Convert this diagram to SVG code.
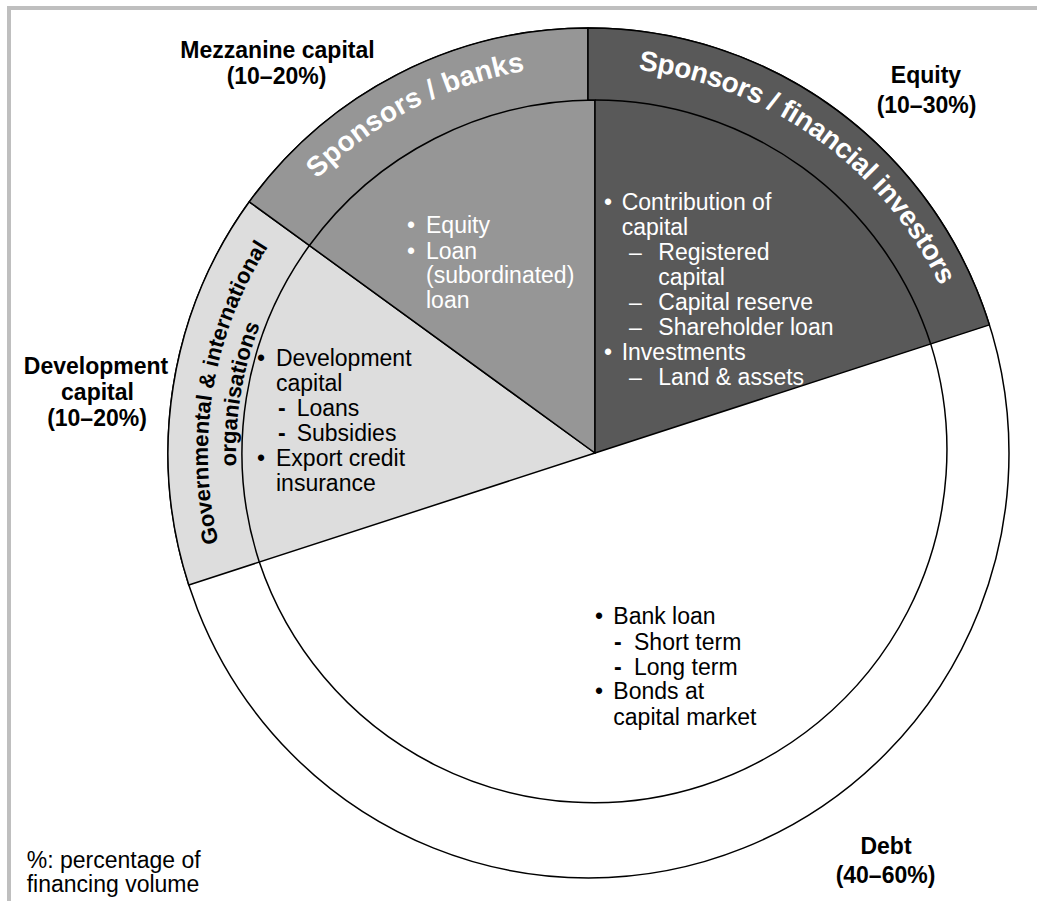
<svg xmlns="http://www.w3.org/2000/svg" width="1037" height="901" viewBox="0 0 1037 901">
<defs>
<style>
.lbl{font-family:"Liberation Sans",Arial,sans-serif;font-weight:bold;font-size:23px;fill:#000;text-anchor:middle}
.body{font-family:"Liberation Sans",Arial,sans-serif;font-size:23px}
.w{fill:#fff}
.k{fill:#000}
.hy{font-weight:bold}
.ring{font-family:"Liberation Sans",Arial,sans-serif;font-weight:bold;font-size:28px;fill:#fff}
.gring{font-family:"Liberation Sans",Arial,sans-serif;font-weight:bold;font-size:22px;fill:#000}
.sec{stroke:#000;stroke-width:1.5;stroke-linejoin:round}
.arc{fill:none;stroke:#000;stroke-width:1.5}
.frame{stroke:#bfbfbf;stroke-width:4;fill:none}
</style>
<path id="arcMezz" d="M227.4,320.3 A388,388 0 0 1 692.4,78.2"/>
<path id="arcEq" d="M545.6,69.8 A386,386 0 0 1 969.7,373.4"/>
<path id="arcGov1" d="M277.4,673.3 A384,384 0 0 1 366.3,142.3"/>
<path id="arcGov2" d="M300.4,657.2 A356,356 0 0 1 382.7,165"/>
</defs>
<rect x="0" y="0" width="1037" height="901" fill="#fff"/>
<g id="frame">
<line class="frame" x1="7" y1="8" x2="1037" y2="8"/>
<line class="frame" x1="9" y1="6" x2="9" y2="901"/>
</g>

<g id="debt">
<ellipse class="sec" cx="588.5" cy="453" rx="420.5" ry="425" fill="#fff"/>
<path class="arc" d="M930.7,343.9 A353,353 0 0 1 259.3,562.1"/>
<g class="body k">
<text x="595" y="624.3">•</text><text x="613.3" y="624.3">Bank loan</text>
<text x="614" y="650" class="hy">-</text><text x="634" y="650">Short term</text>
<text x="614" y="675" class="hy">-</text><text x="634" y="675">Long term</text>
<text x="595" y="699.3">•</text><text x="613.3" y="699.3">Bonds at</text>
<text x="613.3" y="725">capital market</text>
</g>
<text class="lbl"><tspan x="886" y="854.3">Debt</tspan><tspan x="885.5" y="882.7">(40–60%)</tspan></text>
</g>

<g id="government">
<path class="sec" fill="#dddddd" d="M595,453 L188.8,585 A420.5,425 0 0 1 249.3,201.8 Z"/>
<path class="arc" d="M259.3,562.1 A353,353 0 0 1 309.4,245.5"/>
<text class="gring"><textPath href="#arcGov1" startOffset="50%" text-anchor="middle">Governmental &amp; international</textPath></text>
<text class="gring"><textPath href="#arcGov2" startOffset="50%" text-anchor="middle">organisations</textPath></text>
<g class="body k">
<text x="257" y="365.7">•</text><text x="276" y="365.7">Development</text>
<text x="276" y="390.7">capital</text>
<text x="278" y="415.7" class="hy">-</text><text x="296.7" y="415.7">Loans</text>
<text x="278" y="440.7" class="hy">-</text><text x="296.7" y="440.7">Subsidies</text>
<text x="257" y="465.7">•</text><text x="276" y="465.7">Export credit</text>
<text x="276" y="490.7">insurance</text>
</g>
<text class="lbl"><tspan x="96" y="374.3">Development</tspan><tspan x="97.5" y="400">capital</tspan><tspan x="97" y="426">(10–20%)</tspan></text>
</g>

<g id="mezzanine">
<path class="sec" fill="#969696" d="M595,453 L249.3,201.8 A420.5,425 0 0 1 588,28 L588,100 L595,100 Z"/>
<path class="arc" d="M309.4,245.5 A353,353 0 0 1 595,100"/>
<text class="ring" font-size="29" letter-spacing="0.3"><textPath href="#arcMezz" startOffset="50%" text-anchor="middle">Sponsors / banks</textPath></text>
<g class="body w">
<text x="407" y="233.3">•</text><text x="426" y="233.3">Equity</text>
<text x="407" y="258.5">•</text><text x="426" y="258.5">Loan</text>
<text x="426" y="283.3">(subordinated)</text>
<text x="426" y="308.3">loan</text>
</g>
<text class="lbl"><tspan x="277.5" y="58.3">Mezzanine capital</tspan><tspan x="276.5" y="83.5">(10–20%)</tspan></text>
</g>

<g id="equity">
<path class="sec" fill="#595959" d="M595,453 L595,100 L588,100 L588,28 A420.5,425 0 0 1 989.4,324.9 Z"/>
<path class="arc" d="M595,100 A353,353 0 0 1 930.7,343.9"/>
<text class="ring" letter-spacing="-0.4"><textPath href="#arcEq" startOffset="50%" text-anchor="middle">Sponsors / financial investors</textPath></text>
<g class="body w">
<text x="604" y="210">•</text><text x="621.7" y="210">Contribution of</text>
<text x="621.7" y="234.5">capital</text>
<text x="629" y="259.5">–</text><text x="658.3" y="259.5">Registered</text>
<text x="658.3" y="284.5">capital</text>
<text x="629" y="309.5">–</text><text x="658.3" y="309.5">Capital reserve</text>
<text x="629" y="334.5">–</text><text x="658.3" y="334.5">Shareholder loan</text>
<text x="604" y="359.5">•</text><text x="621.7" y="359.5">Investments</text>
<text x="629" y="384.5">–</text><text x="658.3" y="384.5">Land &amp; assets</text>
</g>
<text class="lbl"><tspan x="926" y="83.3">Equity</tspan><tspan x="926.5" y="112.7">(10–30%)</tspan></text>
</g>

<g id="footnote" class="body k">
<text x="26.7" y="868">%: percentage of</text>
<text x="26.7" y="891.7">financing volume</text>
</g>
</svg>
